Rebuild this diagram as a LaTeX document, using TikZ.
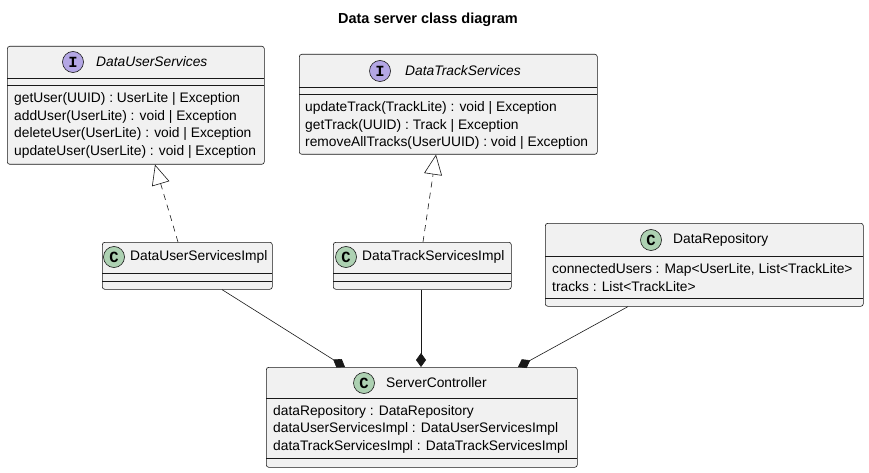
\documentclass[tikz,border=0pt]{standalone}
\usepackage{fontspec}
\setmainfont{Liberation Sans}
\newfontfamily\badgefont{Liberation Mono}
\usetikzlibrary{arrows.meta}

\definecolor{boxfill}{HTML}{F1F1F1}
\definecolor{boxline}{HTML}{181818}
\definecolor{ifacecol}{HTML}{B4A7E5}
\definecolor{classcol}{HTML}{ADD1B2}

\tikzset{
  classbox/.style={draw=boxline,fill=boxfill,rounded corners=2.5pt,line width=0.6pt,anchor=north west},
  sepline/.style={draw=boxline,line width=0.6pt},
  badge/.style={circle,draw=boxline,line width=0.6pt,minimum size=21pt,font=\badgefont\bfseries\fontsize{15.5}{15.5}\selectfont},
  member/.style={anchor=west,font=\fontsize{13.8}{17}\selectfont},
  classname/.style={anchor=west,font=\fontsize{13.8}{17}\selectfont},
  realize/.style={draw=boxline,line width=0.6pt,dash pattern=on 6pt off 5pt,-{Triangle[open,length=20pt,width=18pt]}},
  compose/.style={draw=boxline,line width=0.6pt,-{Diamond[length=14pt,width=10pt]}}
}

\begin{document}
\begin{tikzpicture}[x=1pt,y=-1pt,every node/.style={inner sep=0pt}]
  \useasboundingbox (0,0) rectangle (869,473);
  \node[font=\bfseries\fontsize{14.5}{16}\selectfont] (title) at (428,20) {Data server class diagram};

  % interfaces
  \node[classbox,minimum width=257pt,minimum height=118pt] (dus) at (7,46) {};
  \node[badge,fill=ifacecol] (dusb) at (73,62) {I};
  \node[classname,font=\itshape\fontsize{13.8}{17}\selectfont] (dusn) at (96,62) {DataUserServices};
  \draw[sepline] (7,78) -- (264,78);
  \draw[sepline] (7,85) -- (264,85);
  \node[member] (dus1) at (14,99) {getUser(UUID) : UserLite | Exception};
  \node[member] (dus2) at (14,117) {addUser(UserLite) : void | Exception};
  \node[member] (dus3) at (14,134) {deleteUser(UserLite) : void | Exception};
  \node[member] (dus4) at (14,152) {updateUser(UserLite) : void | Exception};

  \node[classbox,minimum width=298pt,minimum height=100pt] (dts) at (299,54) {};
  \node[badge,fill=ifacecol] (dtsb) at (380,71) {I};
  \node[classname,font=\itshape\fontsize{13.8}{17}\selectfont] (dtsn) at (405,71) {DataTrackServices};
  \draw[sepline] (299,87) -- (597,87);
  \draw[sepline] (299,94) -- (597,94);
  \node[member] (dts1) at (305,108) {updateTrack(TrackLite) : void | Exception};
  \node[member] (dts2) at (305,126) {getTrack(UUID) : Track | Exception};
  \node[member] (dts3) at (305,143) {removeAllTracks(UserUUID) : void | Exception};

  % implementations
  \node[classbox,minimum width=170pt,minimum height=47pt] (dusi) at (102,242) {};
  \node[badge,fill=classcol] (dusib) at (114,257) {C};
  \node[classname] (dusin) at (130,257) {DataUserServicesImpl};
  \draw[sepline] (102,273) -- (272,273);
  \draw[sepline] (102,281) -- (272,281);

  \node[classbox,minimum width=178pt,minimum height=47pt] (dtsi) at (333,242) {};
  \node[badge,fill=classcol] (dtsib) at (346,257) {C};
  \node[classname] (dtsin) at (362,257) {DataTrackServicesImpl};
  \draw[sepline] (333,273) -- (511,273);
  \draw[sepline] (333,281) -- (511,281);

  \node[classbox,minimum width=318pt,minimum height=83pt] (drepo) at (545,223) {};
  \node[badge,fill=classcol] (drepob) at (651,240) {C};
  \node[classname] (drepon) at (673,240) {DataRepository};
  \draw[sepline] (545,256) -- (863,256);
  \node[member] (drepo1) at (552,270) {connectedUsers : Map<UserLite, List<TrackLite>};
  \node[member] (drepo2) at (552,287) {tracks : List<TrackLite>};
  \draw[sepline] (545,298) -- (863,298);

  \node[classbox,minimum width=311pt,minimum height=100pt] (sctrl) at (266,367) {};
  \node[badge,fill=classcol] (sctrlb) at (364,383) {C};
  \node[classname] (sctrln) at (386,383) {ServerController};
  \draw[sepline] (266,398) -- (577,398);
  \node[member] (sctrl1) at (273,412) {dataRepository : DataRepository};
  \node[member] (sctrl2) at (273,429) {dataUserServicesImpl : DataUserServicesImpl};
  \node[member] (sctrl3) at (273,447) {dataTrackServicesImpl : DataTrackServicesImpl};
  \draw[sepline] (266,458) -- (577,458);

  % relations
  \draw[realize] ([xshift=76pt]dusi.north west) -- ([xshift=148pt]dus.south west);
  \draw[realize] ([xshift=90pt]dtsi.north west) -- ([xshift=137pt]dts.south west);
  \draw[compose] ([xshift=120pt]dusi.south west) -- ([xshift=79pt]sctrl.north west);
  \draw[compose] ([xshift=88pt]dtsi.south west) -- ([xshift=155pt]sctrl.north west);
  \draw[compose] ([xshift=83pt]drepo.south west) -- ([xshift=252pt]sctrl.north west);
\end{tikzpicture}
\end{document}
